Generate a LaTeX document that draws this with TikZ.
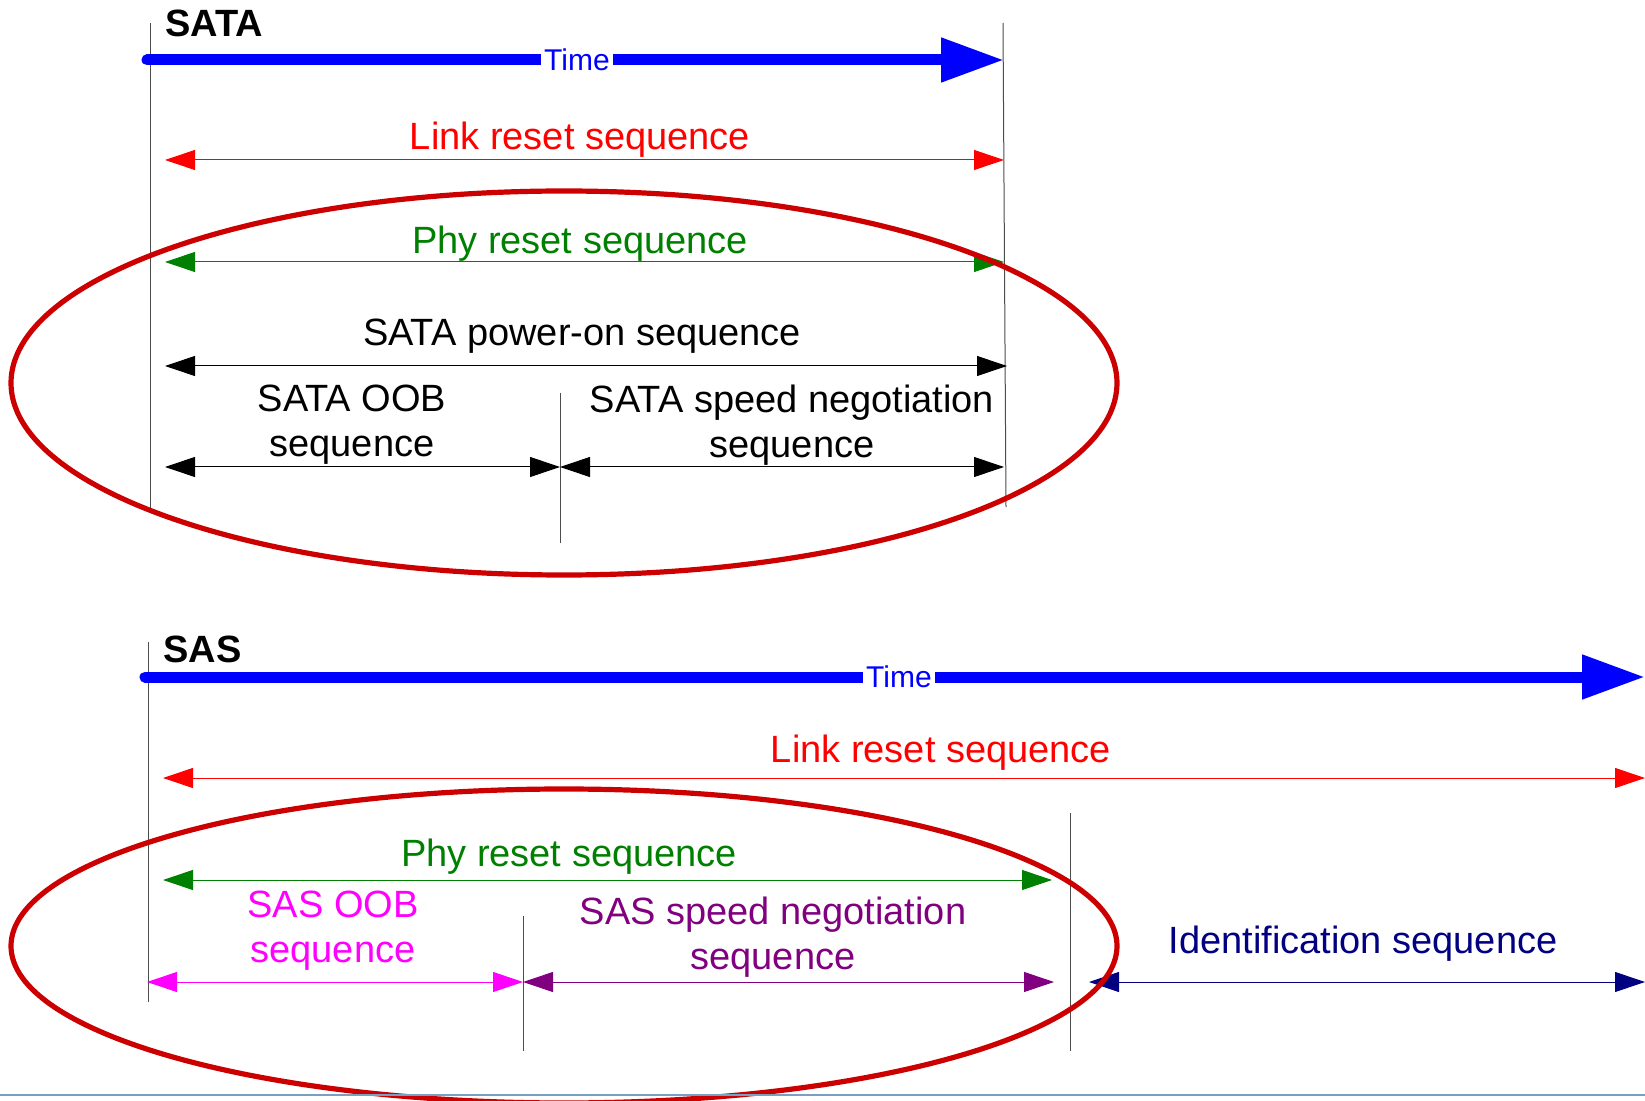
\documentclass[tikz,border=0pt]{standalone}
\usepackage{fontspec}
\setmainfont{Liberation Sans}
\usetikzlibrary{arrows.meta}
\definecolor{ellred}{RGB}{204,0,0}
\definecolor{grn}{RGB}{0,128,0}
\definecolor{purp}{RGB}{128,0,128}
\definecolor{navy}{RGB}{0,0,128}
\definecolor{magn}{RGB}{255,0,255}
\definecolor{baseblue}{RGB}{120,160,195}
\begin{document}
\begin{tikzpicture}[x=0.5pt,y=-0.5pt,
  lbl/.style={font=\fontsize{19}{22.5}\selectfont, align=center, inner sep=0pt},
  ttl/.style={font=\fontsize{19}{22.5}\selectfont\bfseries, inner sep=0pt, anchor=west},
  tlbl/.style={font=\fontsize{15}{18}\selectfont, text=blue, fill=white, inner sep=1.5pt},
  timearrow/.style={draw=blue, line width=5.5pt, line cap=round, -{Triangle[length=31.5pt,width=21pt]}},
  dimarr/.style={line width=0.5pt, {Triangle[length=15pt,width=10pt]}-{Triangle[length=15pt,width=10pt]}},
  tick/.style={draw=black!70, line width=0.5pt},
  oval/.style={draw=ellred, line width=2.6pt},
]
\useasboundingbox (0,0) rectangle (1645,1101);

% ================= SATA =================
\coordinate (aL0) at (150,23);  \coordinate (aL1) at (150,509);
\coordinate (aR0) at (1003,23); \coordinate (aR1) at (1006,507);
\coordinate (aM0) at (560,393); \coordinate (aM1) at (560,543);
\draw[tick] (aL0) -- (aL1);
\draw[tick] (aR0) -- (aR1);
\draw[tick] (aM0) -- (aM1);

\node[ttl] (sata) at (165,23) {SATA};

\coordinate (aT0) at (147,60); \coordinate (aT1) at (1004,60);
\draw[timearrow] (aT0) -- (aT1);
\node[tlbl] (atime) at (577,60) {Time};

\coordinate (aLR0) at (165,160); \coordinate (aLR1) at (1004,160);
\draw[dimarr, red] (aLR0) -- (aLR1);
\node[lbl, text=red, anchor=mid] (alr) at (580,144) {Link reset sequence};

\coordinate (aPR0) at (165,262); \coordinate (aPR1) at (1004,262);
\draw[dimarr, grn] (aPR0) -- (aPR1);
\node[lbl, text=grn, anchor=mid] (apr) at (580,248) {Phy reset sequence};

\coordinate (aPO0) at (165,366); \coordinate (aPO1) at (1007,366);
\draw[dimarr, black] (aPO0) -- (aPO1);
\node[lbl, anchor=mid] (apo) at (582,340) {SATA power-on sequence};

\coordinate (aOOB0) at (165,467); \coordinate (aOOB1) at (560,467);
\draw[dimarr, black] (aOOB0) -- (aOOB1);
\node[lbl] (aoob) at (352,425) {SATA OOB\\sequence};

\coordinate (aSN0) at (560,467); \coordinate (aSN1) at (1004,467);
\draw[dimarr, black] (aSN0) -- (aSN1);
\node[lbl] (asn) at (792,425) {SATA speed negotiation\\sequence};

\draw[oval] (564,383) ellipse [x radius=276.5pt, y radius=96pt];

% ================= SAS =================
\coordinate (bL0) at (148,642);  \coordinate (bL1) at (148,1002);
\coordinate (bV0) at (1070,813); \coordinate (bV1) at (1070,1051);
\coordinate (bM0) at (523,916);  \coordinate (bM1) at (523,1051);
\draw[tick] (bL0) -- (bL1);
\draw[tick] (bV0) -- (bV1);
\draw[tick] (bM0) -- (bM1);

\node[ttl] (sas) at (163,649) {SAS};

\coordinate (bT0) at (145,677); \coordinate (bT1) at (1645,677);
\draw[timearrow] (bT0) -- (bT1);
\node[tlbl] (btime) at (899,677) {Time};

\coordinate (bLR0) at (163,778); \coordinate (bLR1) at (1645,778);
\draw[dimarr, red] (bLR0) -- (bLR1);
\node[lbl, text=red, anchor=mid] (blr) at (941,757) {Link reset sequence};

\coordinate (bPR0) at (163,880); \coordinate (bPR1) at (1052,880);
\draw[dimarr, grn] (bPR0) -- (bPR1);
\node[lbl, text=grn, anchor=mid] (bpr) at (569,861) {Phy reset sequence};

\coordinate (bOOB0) at (147,982); \coordinate (bOOB1) at (523,982);
\draw[dimarr, magn] (bOOB0) -- (bOOB1);
\node[lbl, text=magn] (boob) at (333,931) {SAS OOB\\sequence};

\coordinate (bSN0) at (523,982); \coordinate (bSN1) at (1054,982);
\draw[dimarr, purp] (bSN0) -- (bSN1);
\node[lbl, text=purp] (bsn) at (773,937) {SAS speed negotiation\\sequence};

\coordinate (bID0) at (1089,982); \coordinate (bID1) at (1645,982);
\draw[dimarr, navy] (bID0) -- (bID1);
\node[lbl, text=navy, anchor=mid] (bid) at (1363,948) {Identification sequence};

\draw[oval] (564,946) ellipse [x radius=276.5pt, y radius=78.5pt];

\coordinate (base0) at (0,1095); \coordinate (base1) at (1645,1095);
\draw[draw=baseblue, line width=1.2pt] (base0) -- (base1);
\end{tikzpicture}
\end{document}
